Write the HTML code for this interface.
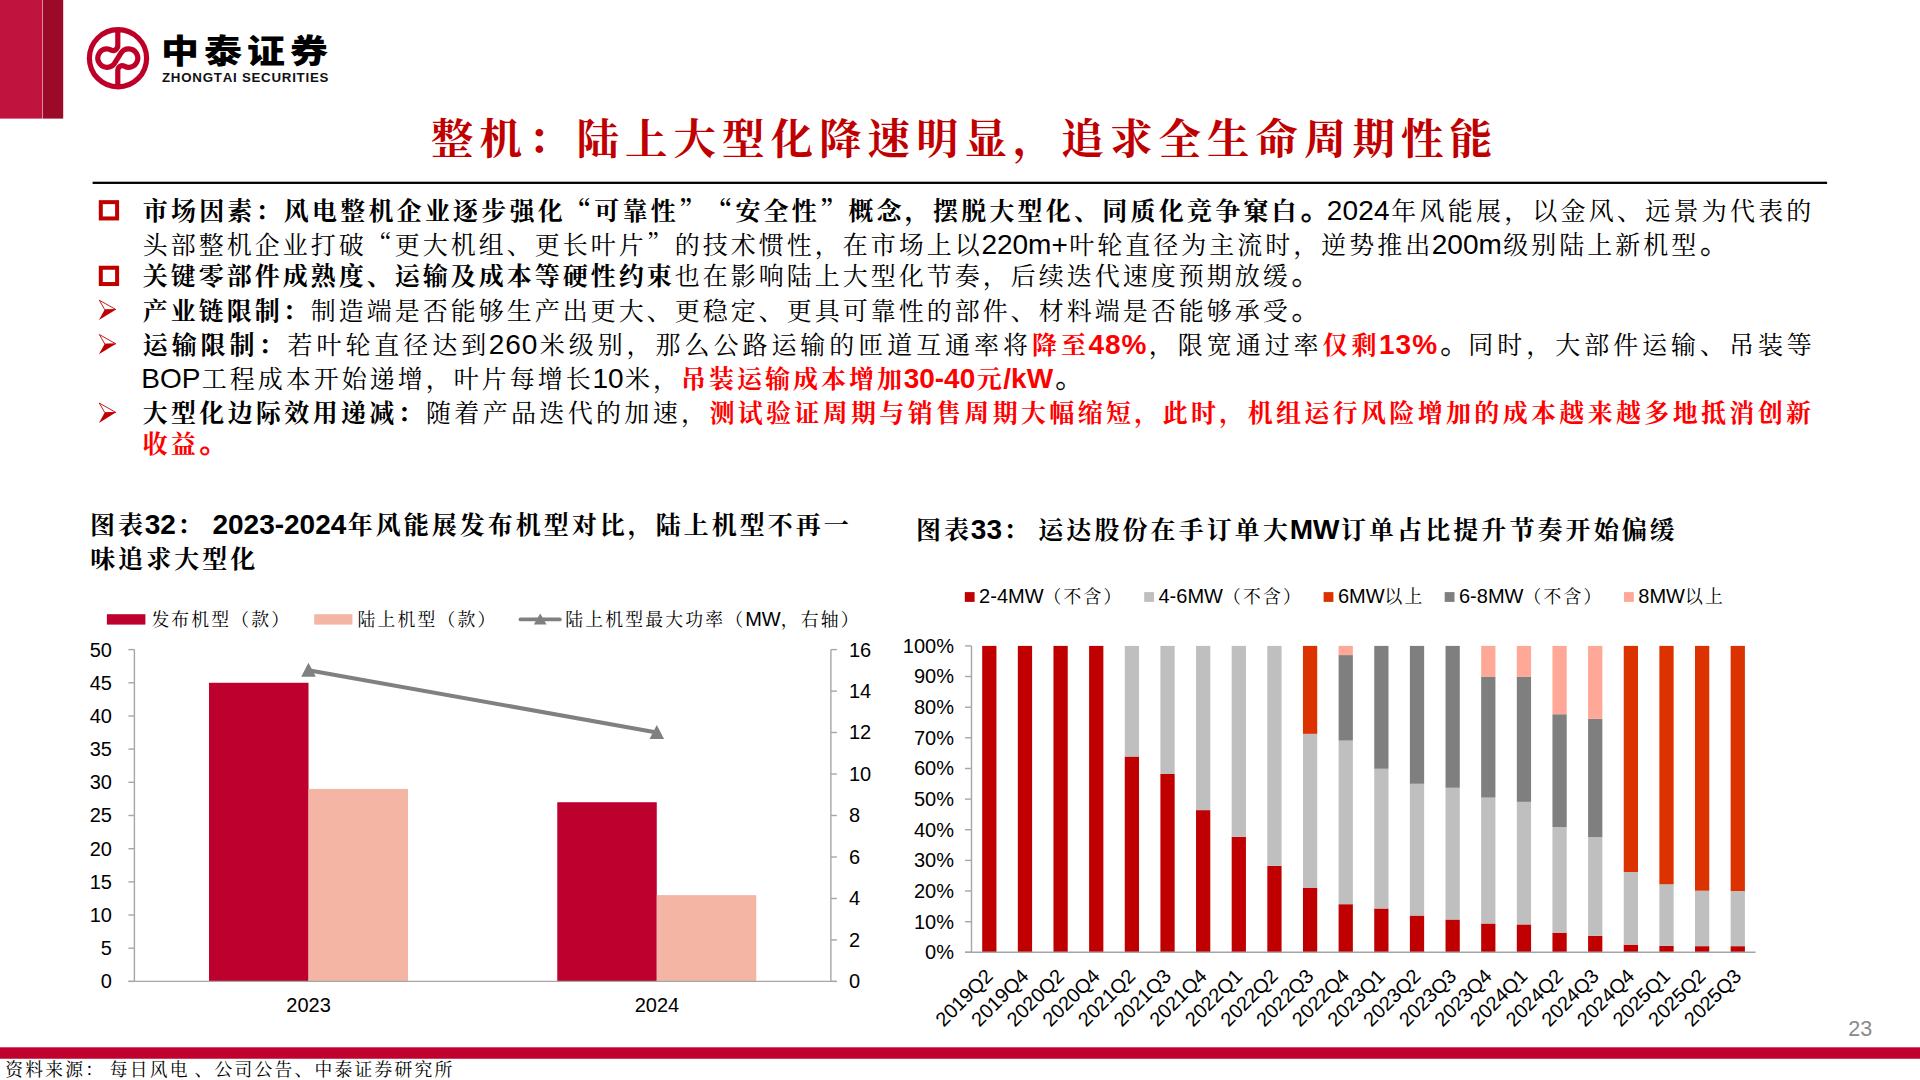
<!DOCTYPE html>
<html lang="zh-CN">
<head>
<meta charset="utf-8">
<title>整机：陆上大型化降速明显，追求全生命周期性能</title>
<style>
html,body{margin:0;padding:0;background:#fff;}
body{width:1920px;height:1080px;position:relative;overflow:hidden;
  font-family:"Liberation Sans","Noto Serif CJK SC",serif;color:#000;
  text-spacing-trim:space-all;font-kerning:none;}
.abs{position:absolute;}
.k{font-family:"Liberation Sans","Noto Serif CJK SC",serif;}
.q{font-family:"Noto Serif CJK SC",serif;}
.ln{position:absolute;white-space:nowrap;font-size:25px;line-height:34px;height:34px;letter-spacing:calc(var(--ls) + 3px);}
.ln span{line-height:0;}
.ln .a{font-size:28px;letter-spacing:var(--ls);margin:0 1.4px 0 -1.4px;}
.ln .p{font-size:29px;letter-spacing:calc(var(--ls) - 1px);position:relative;left:0.8px;top:-0.5px;-webkit-text-stroke:0.35px currentColor;}
.ln .b .p,.ln.b .p{-webkit-text-stroke:0.9px currentColor;}
.b{font-weight:700;}
.r{color:#FF0000;}
.t{position:absolute;white-space:nowrap;}
svg{position:absolute;left:0;top:0;overflow:visible;}
svg text{font-family:"Liberation Sans","Noto Serif CJK SC",serif;}
</style>
</head>
<body>
<svg width="1920" height="1080" viewBox="0 0 1920 1080"><rect x="0" y="0" width="42.3" height="118.6" fill="#C0143F"/><rect x="42.75" y="0" width="20.45" height="118.6" fill="#9B0A28"/><rect x="92.6" y="181.7" width="1734.5" height="2.25" fill="#000"/><rect x="0" y="1047.3" width="1920" height="11.45" fill="#C0002F"/></svg>
<svg width="1920" height="1080" viewBox="0 0 1920 1080">
<g fill="none" stroke="#BE0029" stroke-width="5.2" stroke-linecap="butt" stroke-linejoin="round">
<circle cx="118" cy="58.2" r="28.6"/>
<path d="M117.8 30 L117.8 45.6 C117.8 49.2 114.3 51.6 111.3 50.1 C110 49.4 108.6 48.9 107 48.9 A9.2 9.2 0 1 0 114.84 62.92 L120.76 53.28 A9.2 9.2 0 1 1 128.6 67.3 C127 67.3 125.6 66.8 124.3 66.1 C121.3 64.6 117.8 67 117.8 70.6 L117.8 86.5"/>
</g>
</svg>
<div class="t" id="logo1" style="left:160.5px;top:25.7px;font-family:'Liberation Sans','Noto Sans CJK SC',sans-serif;font-weight:900;font-size:33px;line-height:52px;letter-spacing:4.4px;transform:scaleX(1.15);transform-origin:0 0;color:#000">中泰证券</div>
<div class="t" id="logo2" style="left:162px;top:69.5px;font-family:'Liberation Sans',sans-serif;font-weight:700;font-size:13.3px;line-height:16px;letter-spacing:0.75px;color:#111">ZHONGTAI SECURITIES</div>
<div class="t k b" id="title" style="left:431px;top:110px;font-size:42.5px;line-height:60px;letter-spacing:6px;font-weight:700;color:#C00000">整机：陆上大型化降速明显，追求全生命周期性能</div>
<div class="ln" id="l1" style="left:142.7px;top:194.0px;--ls:0.221px"><span class="b">市场因素：风电整机企业逐步强化<span class="q">“</span>可靠性<span class="q">”</span><span class="q">“</span>安全性<span class="q">”</span>概念，摆脱大型化、同质化竞争窠白<span class="p">。</span></span><span class="a">2024</span>年风能展，以金风、远景为代表的</div>
<div class="ln" id="l2" style="left:142.7px;top:228.0px;--ls:0.000px">头部整机企业打破<span class="q">“</span>更大机组、更长叶片<span class="q">”</span>的技术惯性，在市场上以<span class="a">220m+</span>叶轮直径为主流时，逆势推出<span class="a">200m</span>级别陆上新机型<span class="p">。</span></div>
<div class="ln" id="l3" style="left:142.7px;top:259.0px;--ls:0.000px"><span class="b">关键零部件成熟度、运输及成本等硬性约束</span>也在影响陆上大型化节奏，后续迭代速度预期放缓<span class="p">。</span></div>
<div class="ln" id="l4" style="left:142.7px;top:294.0px;--ls:0.000px"><span class="b">产业链限制：</span>制造端是否能够生产出更大、更稳定、更具可靠性的部件、材料端是否能够承受<span class="p">。</span></div>
<div class="ln" id="l5" style="left:142.7px;top:328.0px;--ls:0.955px"><span class="b">运输限制：</span>若叶轮直径达到<span class="a">260</span>米级别，那么公路运输的匝道互通率将<span class="b r">降至<span class="a">48%</span></span>，限宽通过率<span class="b r">仅剩<span class="a">13%</span></span><span class="p">。</span>同时，大部件运输、吊装等</div>
<div class="ln" id="l6" style="left:142.7px;top:362.0px;--ls:0.000px"><span class="a">BOP</span>工程成本开始递增，叶片每增长<span class="a">10</span>米，<span class="b r">吊装运输成本增加<span class="a">30-40</span>元<span class="a">/kW</span></span><span class="p">。</span></div>
<div class="ln" id="l7" style="left:142.7px;top:396.0px;--ls:0.333px"><span class="b">大型化边际效用递减：</span>随着产品迭代的加速，<span class="b r">测试验证周期与销售周期大幅缩短，此时，机组运行风险增加的成本越来越多地抵消创新</span></div>
<div class="ln" id="l8" style="left:142.7px;top:427.0px;--ls:0.000px"><span class="b r">收益<span class="p">。</span></span></div>
<svg width="1920" height="1080" viewBox="0 0 1920 1080">
<rect x="100.8" y="202.15" width="16.3" height="16.3" fill="none" stroke="#C00000" stroke-width="4.0"/>
<rect x="100.8" y="267.75" width="16.3" height="16.3" fill="none" stroke="#C00000" stroke-width="4.0"/>
<g transform="translate(0,309.8)"><path d="M99.3 -9.6 L115.8 -0.3 L104.9 0 Z" fill="none" stroke="#C00000" stroke-width="0.9"/><path d="M104.6 0 L116.1 -0.4 L98.9 10.2 Z" fill="#C00000"/></g>
<g transform="translate(0,344.1)"><path d="M99.3 -9.6 L115.8 -0.3 L104.9 0 Z" fill="none" stroke="#C00000" stroke-width="0.9"/><path d="M104.6 0 L116.1 -0.4 L98.9 10.2 Z" fill="#C00000"/></g>
<g transform="translate(0,412.7)"><path d="M99.3 -9.6 L115.8 -0.3 L104.9 0 Z" fill="none" stroke="#C00000" stroke-width="0.9"/><path d="M104.6 0 L116.1 -0.4 L98.9 10.2 Z" fill="#C00000"/></g>
</svg>
<div class="ln b" id="c1a" style="left:90.0px;top:507.8px;--ls:0.000px;word-spacing:-1.3px">图表<span class="a">32</span>： <span class="a">2023-2024</span>年风能展发布机型对比，陆上机型不再一</div>
<div class="ln b" id="c1b" style="left:90.3px;top:541.6px;--ls:0.000px;word-spacing:-3.3px">味追求大型化</div>
<div class="ln b" id="c2a" style="left:916.0px;top:512.6px;--ls:0.080px;word-spacing:-3.3px">图表<span class="a">33</span>： 运达股份在手订单大<span class="a">MW</span>订单占比提升节奏开始偏缓</div>
<div class="t k" id="src" style="left:5.3px;top:1056.8px;font-size:17.8px;line-height:26px;letter-spacing:2.22px;word-spacing:-2.6px">资料来源： 每日风电 、公司公告、中泰证券研究所</div>
<div class="t" id="pn" style="left:1848.2px;top:1016.3px;font-family:'Liberation Sans',sans-serif;font-size:21.5px;line-height:26px;color:#8A8A8A">23</div>
<svg width="1920" height="1080" viewBox="0 0 1920 1080" font-size="20.00" letter-spacing="0.00">
<rect x="209.02" y="682.78" width="99.50" height="298.62" fill="#BE002F"/>
<rect x="308.52" y="788.96" width="99.50" height="192.44" fill="#F5B5A5"/>
<rect x="557.27" y="802.23" width="99.50" height="179.17" fill="#BE002F"/>
<rect x="656.77" y="895.13" width="99.50" height="86.27" fill="#F5B5A5"/>
<g stroke="#A6A6A6" stroke-width="1.4" fill="none">
<path d="M134.4 649.6 V981.4"/>
<path d="M830.9 649.6 V981.4"/>
<path d="M128.4 981.4 H836.9"/>
<path d="M128.4 981.4 H134.4"/>
<path d="M128.4 948.2 H134.4"/>
<path d="M128.4 915.0 H134.4"/>
<path d="M128.4 881.9 H134.4"/>
<path d="M128.4 848.7 H134.4"/>
<path d="M128.4 815.5 H134.4"/>
<path d="M128.4 782.3 H134.4"/>
<path d="M128.4 749.1 H134.4"/>
<path d="M128.4 716.0 H134.4"/>
<path d="M128.4 682.8 H134.4"/>
<path d="M128.4 649.6 H134.4"/>
<path d="M830.9 981.4 H836.9"/>
<path d="M830.9 939.9 H836.9"/>
<path d="M830.9 898.5 H836.9"/>
<path d="M830.9 857.0 H836.9"/>
<path d="M830.9 815.5 H836.9"/>
<path d="M830.9 774.0 H836.9"/>
<path d="M830.9 732.5 H836.9"/>
<path d="M830.9 691.1 H836.9"/>
<path d="M830.9 649.6 H836.9"/>
</g>
<text x="111.9" y="988.3" text-anchor="end">0</text>
<text x="111.9" y="955.1" text-anchor="end">5</text>
<text x="111.9" y="921.9" text-anchor="end">10</text>
<text x="111.9" y="888.8" text-anchor="end">15</text>
<text x="111.9" y="855.6" text-anchor="end">20</text>
<text x="111.9" y="822.4" text-anchor="end">25</text>
<text x="111.9" y="789.2" text-anchor="end">30</text>
<text x="111.9" y="756.0" text-anchor="end">35</text>
<text x="111.9" y="722.9" text-anchor="end">40</text>
<text x="111.9" y="689.7" text-anchor="end">45</text>
<text x="111.9" y="656.5" text-anchor="end">50</text>
<text x="849.0" y="988.3">0</text>
<text x="849.0" y="946.8">2</text>
<text x="849.0" y="905.4">4</text>
<text x="849.0" y="863.9">6</text>
<text x="849.0" y="822.4">8</text>
<text x="849.0" y="780.9">10</text>
<text x="849.0" y="739.4">12</text>
<text x="849.0" y="698.0">14</text>
<text x="849.0" y="656.5">16</text>
<text x="308.6" y="1012.2" text-anchor="middle">2023</text>
<text x="656.9" y="1012.2" text-anchor="middle">2024</text>
<path d="M308.5 670.3 L656.8 732.5" stroke="#808080" stroke-width="4.1" fill="none" stroke-linecap="round"/>
<path d="M308.5 662.7 l7.3 14 h-14.6 Z" fill="#808080"/>
<path d="M656.8 724.9 l7.3 14 h-14.6 Z" fill="#808080"/>
<rect x="106.9" y="614.2" width="38.5" height="10.4" fill="#BE002F"/>
<text id="lg1" x="151.4" y="626"><tspan font-size="17.8" letter-spacing="2.20">发布机型（款）</tspan></text>
<rect x="314.2" y="614.2" width="38.2" height="10.4" fill="#F5B5A5"/>
<text id="lg2" x="357.6" y="626"><tspan font-size="17.8" letter-spacing="2.20">陆上机型（款）</tspan></text>
<path d="M520.5 619.4 H559.8" stroke="#808080" stroke-width="3.8" stroke-linecap="round"/>
<path d="M540.2 613.6 l6.4 11 h-12.8 Z" fill="#808080"/>
<text id="lg3" x="565.3" y="626"><tspan font-size="17.8" letter-spacing="2.20">陆上机型最大功率（</tspan>MW<tspan font-size="17.8" letter-spacing="2.20">，右轴）</tspan></text>
<rect x="982.19" y="645.90" width="14.26" height="306.40" fill="#C00000"/>
<rect x="1017.83" y="645.90" width="14.26" height="306.40" fill="#C00000"/>
<rect x="1053.47" y="645.90" width="14.26" height="306.40" fill="#C00000"/>
<rect x="1089.11" y="645.90" width="14.26" height="306.40" fill="#C00000"/>
<rect x="1124.76" y="756.51" width="14.26" height="195.79" fill="#C00000"/>
<rect x="1124.76" y="645.90" width="14.26" height="110.61" fill="#BFBFBF"/>
<rect x="1160.40" y="773.98" width="14.26" height="178.32" fill="#C00000"/>
<rect x="1160.40" y="645.90" width="14.26" height="128.08" fill="#BFBFBF"/>
<rect x="1196.04" y="810.13" width="14.26" height="142.17" fill="#C00000"/>
<rect x="1196.04" y="645.90" width="14.26" height="164.23" fill="#BFBFBF"/>
<rect x="1231.68" y="836.79" width="14.26" height="115.51" fill="#C00000"/>
<rect x="1231.68" y="645.90" width="14.26" height="190.89" fill="#BFBFBF"/>
<rect x="1267.32" y="865.90" width="14.26" height="86.40" fill="#C00000"/>
<rect x="1267.32" y="645.90" width="14.26" height="220.00" fill="#BFBFBF"/>
<rect x="1302.96" y="887.65" width="14.26" height="64.65" fill="#C00000"/>
<rect x="1302.96" y="733.84" width="14.26" height="153.81" fill="#BFBFBF"/>
<rect x="1302.96" y="645.90" width="14.26" height="87.94" fill="#DC3200"/>
<rect x="1338.60" y="904.20" width="14.26" height="48.10" fill="#C00000"/>
<rect x="1338.60" y="740.58" width="14.26" height="163.62" fill="#BFBFBF"/>
<rect x="1338.60" y="655.09" width="14.26" height="85.49" fill="#7F7F7F"/>
<rect x="1338.60" y="645.90" width="14.26" height="9.19" fill="#FFA897"/>
<rect x="1374.24" y="908.48" width="14.26" height="43.82" fill="#C00000"/>
<rect x="1374.24" y="768.77" width="14.26" height="139.72" fill="#BFBFBF"/>
<rect x="1374.24" y="645.90" width="14.26" height="122.87" fill="#7F7F7F"/>
<rect x="1409.88" y="915.53" width="14.26" height="36.77" fill="#C00000"/>
<rect x="1409.88" y="783.78" width="14.26" height="131.75" fill="#BFBFBF"/>
<rect x="1409.88" y="645.90" width="14.26" height="137.88" fill="#7F7F7F"/>
<rect x="1445.52" y="919.52" width="14.26" height="32.78" fill="#C00000"/>
<rect x="1445.52" y="787.76" width="14.26" height="131.75" fill="#BFBFBF"/>
<rect x="1445.52" y="645.90" width="14.26" height="141.86" fill="#7F7F7F"/>
<rect x="1481.16" y="923.50" width="14.26" height="28.80" fill="#C00000"/>
<rect x="1481.16" y="797.57" width="14.26" height="125.93" fill="#BFBFBF"/>
<rect x="1481.16" y="676.54" width="14.26" height="121.03" fill="#7F7F7F"/>
<rect x="1481.16" y="645.90" width="14.26" height="30.64" fill="#FFA897"/>
<rect x="1516.81" y="924.42" width="14.26" height="27.88" fill="#C00000"/>
<rect x="1516.81" y="801.86" width="14.26" height="122.56" fill="#BFBFBF"/>
<rect x="1516.81" y="676.54" width="14.26" height="125.32" fill="#7F7F7F"/>
<rect x="1516.81" y="645.90" width="14.26" height="30.64" fill="#FFA897"/>
<rect x="1552.45" y="932.69" width="14.26" height="19.61" fill="#C00000"/>
<rect x="1552.45" y="826.98" width="14.26" height="105.71" fill="#BFBFBF"/>
<rect x="1552.45" y="714.23" width="14.26" height="112.76" fill="#7F7F7F"/>
<rect x="1552.45" y="645.90" width="14.26" height="68.33" fill="#FFA897"/>
<rect x="1588.09" y="935.75" width="14.26" height="16.55" fill="#C00000"/>
<rect x="1588.09" y="837.09" width="14.26" height="98.66" fill="#BFBFBF"/>
<rect x="1588.09" y="718.82" width="14.26" height="118.27" fill="#7F7F7F"/>
<rect x="1588.09" y="645.90" width="14.26" height="72.92" fill="#FFA897"/>
<rect x="1623.73" y="944.64" width="14.26" height="7.66" fill="#C00000"/>
<rect x="1623.73" y="872.02" width="14.26" height="72.62" fill="#BFBFBF"/>
<rect x="1623.73" y="645.90" width="14.26" height="226.12" fill="#DC3200"/>
<rect x="1659.37" y="945.87" width="14.26" height="6.43" fill="#C00000"/>
<rect x="1659.37" y="884.28" width="14.26" height="61.59" fill="#BFBFBF"/>
<rect x="1659.37" y="645.90" width="14.26" height="238.38" fill="#DC3200"/>
<rect x="1695.01" y="946.17" width="14.26" height="6.13" fill="#C00000"/>
<rect x="1695.01" y="890.71" width="14.26" height="55.46" fill="#BFBFBF"/>
<rect x="1695.01" y="645.90" width="14.26" height="244.81" fill="#DC3200"/>
<rect x="1730.65" y="946.17" width="14.26" height="6.13" fill="#C00000"/>
<rect x="1730.65" y="891.02" width="14.26" height="55.15" fill="#BFBFBF"/>
<rect x="1730.65" y="645.90" width="14.26" height="245.12" fill="#DC3200"/>
<g stroke="#A6A6A6" stroke-width="1.4" fill="none">
<path d="M971.5 645.9 V952.3"/>
<path d="M965.0 952.3 H1755.6"/>
<path d="M965.0 952.3 H971.5"/>
<path d="M965.0 921.7 H971.5"/>
<path d="M965.0 891.0 H971.5"/>
<path d="M965.0 860.4 H971.5"/>
<path d="M965.0 829.7 H971.5"/>
<path d="M965.0 799.1 H971.5"/>
<path d="M965.0 768.5 H971.5"/>
<path d="M965.0 737.8 H971.5"/>
<path d="M965.0 707.2 H971.5"/>
<path d="M965.0 676.5 H971.5"/>
<path d="M965.0 645.9 H971.5"/>
</g>
<text x="954.0" y="959.2" text-anchor="end">0%</text>
<text x="954.0" y="928.6" text-anchor="end">10%</text>
<text x="954.0" y="897.9" text-anchor="end">20%</text>
<text x="954.0" y="867.3" text-anchor="end">30%</text>
<text x="954.0" y="836.6" text-anchor="end">40%</text>
<text x="954.0" y="806.0" text-anchor="end">50%</text>
<text x="954.0" y="775.4" text-anchor="end">60%</text>
<text x="954.0" y="744.7" text-anchor="end">70%</text>
<text x="954.0" y="714.1" text-anchor="end">80%</text>
<text x="954.0" y="683.4" text-anchor="end">90%</text>
<text x="954.0" y="652.8" text-anchor="end">100%</text>
<text transform="translate(994.1 977.3) rotate(-45)" text-anchor="end">2019Q2</text>
<text transform="translate(1029.8 977.3) rotate(-45)" text-anchor="end">2019Q4</text>
<text transform="translate(1065.4 977.3) rotate(-45)" text-anchor="end">2020Q2</text>
<text transform="translate(1101.0 977.3) rotate(-45)" text-anchor="end">2020Q4</text>
<text transform="translate(1136.7 977.3) rotate(-45)" text-anchor="end">2021Q2</text>
<text transform="translate(1172.3 977.3) rotate(-45)" text-anchor="end">2021Q3</text>
<text transform="translate(1208.0 977.3) rotate(-45)" text-anchor="end">2021Q4</text>
<text transform="translate(1243.6 977.3) rotate(-45)" text-anchor="end">2022Q1</text>
<text transform="translate(1279.2 977.3) rotate(-45)" text-anchor="end">2022Q2</text>
<text transform="translate(1314.9 977.3) rotate(-45)" text-anchor="end">2022Q3</text>
<text transform="translate(1350.5 977.3) rotate(-45)" text-anchor="end">2022Q4</text>
<text transform="translate(1386.2 977.3) rotate(-45)" text-anchor="end">2023Q1</text>
<text transform="translate(1421.8 977.3) rotate(-45)" text-anchor="end">2023Q2</text>
<text transform="translate(1457.5 977.3) rotate(-45)" text-anchor="end">2023Q3</text>
<text transform="translate(1493.1 977.3) rotate(-45)" text-anchor="end">2023Q4</text>
<text transform="translate(1528.7 977.3) rotate(-45)" text-anchor="end">2024Q1</text>
<text transform="translate(1564.4 977.3) rotate(-45)" text-anchor="end">2024Q2</text>
<text transform="translate(1600.0 977.3) rotate(-45)" text-anchor="end">2024Q3</text>
<text transform="translate(1635.7 977.3) rotate(-45)" text-anchor="end">2024Q4</text>
<text transform="translate(1671.3 977.3) rotate(-45)" text-anchor="end">2025Q1</text>
<text transform="translate(1706.9 977.3) rotate(-45)" text-anchor="end">2025Q2</text>
<text transform="translate(1742.6 977.3) rotate(-45)" text-anchor="end">2025Q3</text>
<rect x="964.8" y="592.1" width="9.8" height="9.8" fill="#C00000"/>
<text id="lh0" x="979.1" y="603.2">2-4MW<tspan font-size="17.8" letter-spacing="2.20">（不含）</tspan></text>
<rect x="1144.2" y="592.1" width="9.8" height="9.8" fill="#BFBFBF"/>
<text id="lh1" x="1158.5" y="603.2">4-6MW<tspan font-size="17.8" letter-spacing="2.20">（不含）</tspan></text>
<rect x="1323.6" y="592.1" width="9.8" height="9.8" fill="#DC3200"/>
<text id="lh2" x="1337.9" y="603.2">6MW<tspan font-size="17.8" letter-spacing="2.20">以上</tspan></text>
<rect x="1444.7" y="592.1" width="9.8" height="9.8" fill="#7F7F7F"/>
<text id="lh3" x="1459.0" y="603.2">6-8MW<tspan font-size="17.8" letter-spacing="2.20">（不含）</tspan></text>
<rect x="1624.0" y="592.1" width="9.8" height="9.8" fill="#FFA897"/>
<text id="lh4" x="1638.3" y="603.2">8MW<tspan font-size="17.8" letter-spacing="2.20">以上</tspan></text>
</svg>
</body>
</html>
